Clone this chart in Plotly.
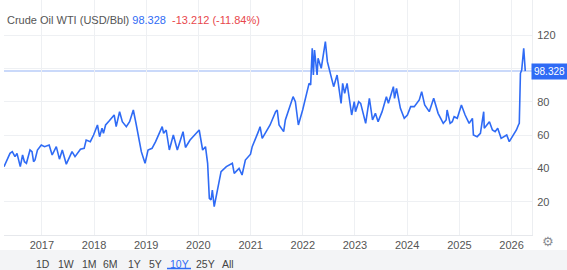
import plotly.graph_objects as go

dates = [
 "2016-04-11","2016-04-25","2016-05-09","2016-05-23","2016-06-08","2016-06-27","2016-07-11","2016-07-25",
 "2016-08-03","2016-08-19","2016-09-01","2016-09-15","2016-10-10","2016-10-24","2016-11-04","2016-11-14",
 "2016-12-01","2016-12-28","2017-01-20","2017-02-21","2017-03-14","2017-04-12","2017-05-04","2017-05-24",
 "2017-06-21","2017-07-31","2017-08-21","2017-09-28","2017-10-24","2017-11-07","2017-12-06","2017-12-29",
 "2018-01-25","2018-02-09","2018-02-26","2018-03-08","2018-03-23","2018-04-18","2018-05-22","2018-06-05",
 "2018-06-29","2018-07-18","2018-08-15","2018-09-07","2018-10-03","2018-10-24","2018-11-13","2018-11-28",
 "2018-12-24","2019-01-14","2019-02-11","2019-03-08","2019-04-23","2019-05-03","2019-05-21","2019-06-12",
 "2019-07-10","2019-08-07","2019-09-16","2019-10-03","2019-11-04","2019-12-27","2020-01-07","2020-01-31",
 "2020-02-20","2020-03-06","2020-03-18","2020-03-30","2020-04-08","2020-04-21","2020-05-08","2020-06-08",
 "2020-07-15","2020-08-26","2020-09-08","2020-10-12","2020-11-02","2020-11-25","2020-12-31","2021-01-12",
 "2021-02-24","2021-03-08","2021-03-23","2021-04-20","2021-05-17","2021-06-25","2021-07-06","2021-07-19",
 "2021-08-20","2021-09-01","2021-10-25","2021-11-10","2021-12-01","2021-12-31","2022-01-25","2022-02-14",
 "2022-02-25","2022-03-08","2022-03-16","2022-03-24","2022-04-11","2022-04-18","2022-05-10","2022-05-31",
 "2022-06-08","2022-06-22","2022-07-05","2022-07-15","2022-08-05","2022-08-29","2022-09-26","2022-10-07",
 "2022-10-21","2022-11-07","2022-12-09","2022-12-27","2023-01-05","2023-01-27","2023-02-10","2023-03-17",
 "2023-04-12","2023-05-04","2023-05-24","2023-06-12","2023-07-10","2023-08-09","2023-08-23","2023-09-27",
 "2023-10-05","2023-10-19","2023-11-15","2023-12-12","2024-01-03","2024-01-26","2024-02-20","2024-03-26",
 "2024-04-12","2024-05-03","2024-06-04","2024-07-05","2024-07-24","2024-08-05","2024-09-10","2024-09-30",
 "2024-10-07","2024-10-28","2024-11-12","2024-11-25","2024-12-17","2025-01-15","2025-02-10","2025-03-10",
 "2025-04-02","2025-04-09","2025-05-05","2025-05-28","2025-06-20","2025-06-24","2025-07-30","2025-08-20",
 "2025-09-08","2025-09-26","2025-10-20","2025-11-12","2025-11-28","2025-12-16","2026-01-13","2026-02-04",
 "2026-02-18","2026-02-24","2026-03-04","2026-03-13","2026-03-27","2026-04-07",
]
prices = [
 41, 44, 46, 49, 50, 47, 49, 44,
 41, 48, 44, 43, 51, 50, 44, 45,
 51, 54, 53, 54, 48, 53, 45.5, 51,
 42.5, 50, 47, 51.5, 52, 57, 56, 60,
 66, 59, 64, 61, 66, 68.5, 72, 65,
 74, 68, 65, 68, 75, 66, 56, 50,
 43, 51, 52, 56, 65, 61, 63, 51,
 60, 51, 62, 52.5, 57, 62, 63, 51,
 53, 43, 22, 21, 27, 17, 24, 38,
 41, 43, 37, 40, 36, 45, 48.5, 53,
 62, 65, 58, 62, 66, 74, 75, 66,
 62, 69, 83, 80, 66, 75, 85, 91,
 90, 112, 96, 111, 96, 106, 100, 110,
 116, 104, 100, 96, 89, 96, 79, 91,
 85, 91, 72, 80, 74, 80, 79, 67,
 82, 69, 73, 68, 74, 83, 79, 89,
 82, 88, 76, 70, 72, 77, 77, 81,
 86, 78, 74, 82, 77, 73, 67, 69,
 75, 67, 68, 71, 70, 78, 72, 67,
 70, 60, 59, 61, 74, 64, 68, 63,
 62, 64, 58, 59, 60, 56, 60, 63,
 66, 67, 97, 99, 112, 98.328,
]
last_value = 98.328
change_text = "-13.212 (-11.84%)"
title_text = "Crude Oil WTI (USD/Bbl)"
year_ticks = ["2017-01-01","2018-01-01","2019-01-01","2020-01-01","2021-01-01",
              "2022-01-01","2023-01-01","2024-01-01","2025-01-01","2026-01-01"]
year_labels = ["2017","2018","2019","2020","2021","2022","2023","2024","2025","2026"]
y_ticks = [20, 40, 60, 80, 100, 120]
y_labels = ["20", "40", "60", "80", "", "120"]
range_buttons = ["1D", "1W", "1M", "6M", "1Y", "5Y", "10Y", "25Y", "All"]
active_button = "10Y"

BLUE = "#2f6bf5"
GRID = "#eef0f3"
TXT = "#555555"
FONT = "Liberation Sans, Arial, sans-serif"

fig = go.Figure()
fig.add_trace(go.Scatter(x=dates, y=prices, mode="lines",
                         line=dict(color=BLUE, width=1.6), hoverinfo="skip"))

# last value reference line
fig.add_shape(type="line", xref="paper", yref="y", x0=0, x1=1, y0=last_value, y1=last_value,
              line=dict(color="#b9cdf8", width=1.5), layer="below")

fig.update_layout(
    width=567, height=270,
    margin=dict(l=4, r=35, t=0, b=35),
    paper_bgcolor="white", plot_bgcolor="white",
    showlegend=False,
    font=dict(family=FONT, size=11, color=TXT),
    xaxis=dict(type="date", range=["2016-04-11", "2026-05-24"],
               tickvals=year_ticks, ticktext=year_labels,
               showgrid=True, gridcolor=GRID, gridwidth=1,
               showline=True, linecolor="#e6e8ec", linewidth=1,
               ticks="", zeroline=False, tickfont=dict(size=11, color=TXT)),
    yaxis=dict(range=[0, 141], side="right", tickvals=y_ticks, ticktext=y_labels,
               showgrid=True, gridcolor=GRID, gridwidth=1,
               showline=True, linecolor="#eceef1", linewidth=1,
               ticks="", zeroline=False, tickfont=dict(size=11, color=TXT),
               ticklabelstandoff=2),
)

# title
fig.add_annotation(xref="paper", yref="paper", x=0.002, y=1 - 20/235,
                   text=(f"{title_text} <span style='color:{BLUE}'>{last_value:.3f}</span>"
                         f"  <span style='color:#e8474c'>{change_text}</span>"),
                   showarrow=False, xanchor="left", yanchor="middle",
                   font=dict(size=11, color=TXT))

# last value box
fig.add_annotation(xref="paper", yref="y", x=1, y=last_value, text=f"{last_value:.3f}",
                   showarrow=False, xanchor="left", yanchor="middle", xshift=-1,
                   bgcolor=BLUE, font=dict(size=10, color="white"),
                   borderpad=2)

# bottom bar
fig.add_shape(type="rect", xref="paper", yref="paper",
              x0=-4/528, x1=(567-4)/528, y0=-(270-235)/235, y1=-(250-235)/235,
              fillcolor="#f3f4f6", line=dict(width=0), layer="below")
btn_x = [43, 66, 89, 110, 134, 155, 179, 205, 228]
for lbl, px in zip(range_buttons, btn_x):
    active = lbl == active_button
    fig.add_annotation(xref="paper", yref="paper", x=(px-4)/528, y=-(264-235)/235,
                       text=lbl, showarrow=False, xanchor="center", yanchor="middle",
                       font=dict(size=10.5, color=BLUE if active else "#444444"))
    if active:
        fig.add_shape(type="line", xref="paper", yref="paper",
                      x0=(px-12-4)/528, x1=(px+12-4)/528, y0=-(268.5-235)/235, y1=-(268.5-235)/235,
                      line=dict(color=BLUE, width=1.5))

# settings gear
fig.add_annotation(xref="paper", yref="paper", x=(548-4)/528, y=-(241-235)/235,
                   text="\u2699", showarrow=False, xanchor="center", yanchor="middle",
                   font=dict(size=13, color="#8a8d93", family="DejaVu Sans"))

fig.write_html("out.html")
